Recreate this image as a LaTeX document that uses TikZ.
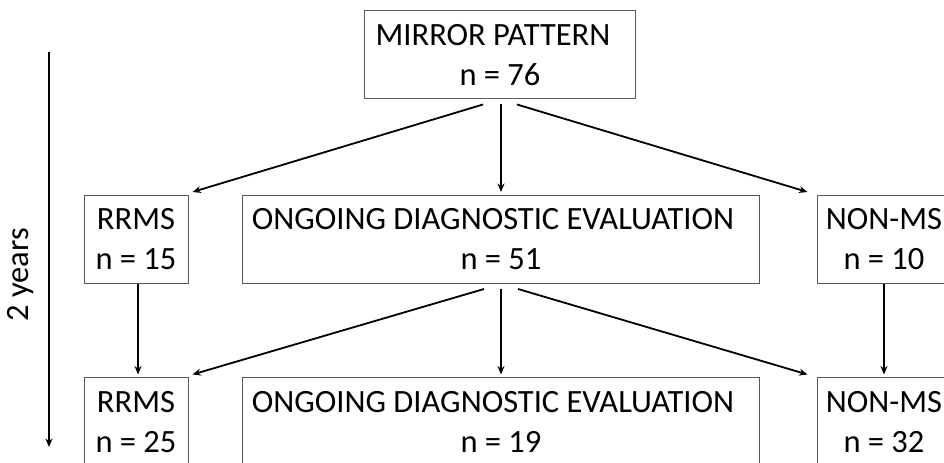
\documentclass[tikz,border=0pt]{standalone}
\usepackage{fontspec}
\setmainfont{Carlito}
\usetikzlibrary{arrows.meta}

\begin{document}
\begin{tikzpicture}[x=1bp, y=-1bp, >={Stealth[length=8.5bp, width=7bp]},
    box/.style={draw=black!65, line width=1bp, align=center, inner sep=0pt,
      minimum height=88bp, font=\fontsize{32.5bp}{40bp}\selectfont},
    flow/.style={->, line width=1.8bp}]
  \useasboundingbox (0,0) rectangle (944,463);
  \clip (0,0) rectangle (944,463);
  % ── Time axis on the left ─────────────────────────────────────
  \coordinate (tstart) at (49,52);
  \coordinate (tend)   at (49,447);
  \draw[->, line width=1.8bp] (tstart) -- (tend);
  \node[rotate=90, font=\fontsize{32.5bp}{40bp}\selectfont] (span) at (21,275) {2 years};
  % ── Starting cohort ───────────────────────────────────────────
  \node[box, minimum width=271bp] (mirror) at (500,55) {MIRROR PATTERN\hspace*{14bp}\\n = 76};
  % ── Two follow-up rows (boxes run off the right / bottom edge) ─
  \foreach \row/\y/\r/\o/\m in {A/239.5/15/51/10, B/422/25/19/32} {
    \node[box, minimum width=104bp] (rrms\row) at (136,\y) {RRMS\\n = \r};
    \node[box, minimum width=516bp] (ong\row)  at (501,\y) {ONGOING DIAGNOSTIC EVALUATION\hspace*{16bp}\\n = \o};
    \node[box, minimum width=134bp] (non\row)  at (884,\y) {NON-MS\\n = \m};
  }
  % ── Splits: left, middle, right ───────────────────────────────
  \foreach \src/\dst in {mirror/A, ongA/B} {
    \draw[flow] ([shift={(-17,5)}]\src.south) -- ([shift={(4,-3)}]rrms\dst.north east);
    \draw[flow] ([shift={(0,5)}]\src.south -| ong\dst.north) -- ([shift={(0,-3)}]ong\dst.north);
    \draw[flow] ([shift={(17,5)}]\src.south) -- ([shift={(-9,-3)}]non\dst.north west);
  }
  % ── Unchanged diagnoses carried down ──────────────────────────
  \draw[flow, shorten >=3bp] ([xshift=2bp]rrmsA.south) -- ([xshift=2bp]rrmsB.north);
  \draw[flow, shorten >=3bp] (nonA.south) -- (nonB.north);
\end{tikzpicture}
\end{document}
